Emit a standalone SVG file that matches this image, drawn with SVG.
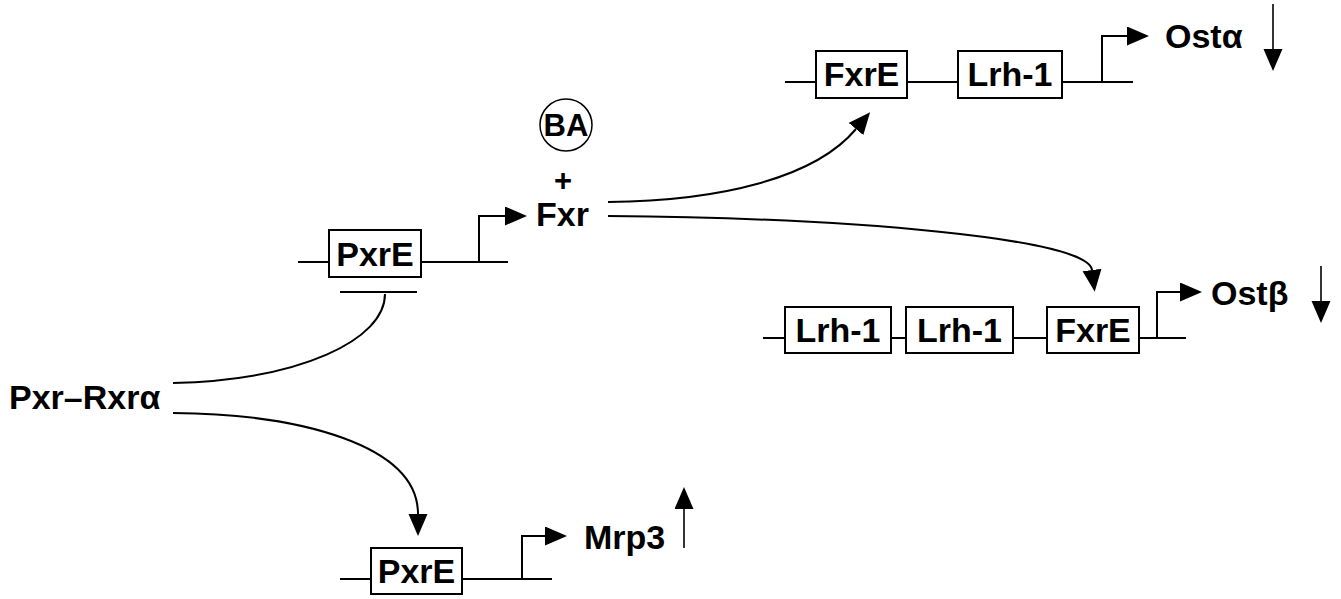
<svg xmlns="http://www.w3.org/2000/svg" width="1341" height="599" viewBox="0 0 1341 599">
  <defs>
    <style>
      .ln { fill: none; stroke: #000; stroke-width: 2; }
      .thin { fill: none; stroke: #000; stroke-width: 1.6; }
      .box { fill: #fff; stroke: #000; stroke-width: 2; }
      .lbl { font-family: "Liberation Sans", Arial, sans-serif; font-weight: bold; font-size: 34px; fill: #000; }
      .mid { text-anchor: middle; }
    </style>
    <marker id="head" markerUnits="userSpaceOnUse" markerWidth="23" markerHeight="20" refX="0" refY="9.5" orient="auto">
      <path d="M0,0 L22,9.5 L0,19 z" fill="#000"/>
    </marker>
  </defs>

  <rect width="1341" height="599" fill="#fff"/>

  <!-- PxrE promoter driving Fxr -->
  <g id="pxre-fxr-gene">
    <path class="ln" d="M298,262 H508"/>
    <rect class="box" x="329" y="230" width="92" height="47"/>
    <text class="lbl mid" x="375" y="266">PxrE</text>
    <path class="ln" d="M479,262 V216 H505" marker-end="url(#head)"/>
    <path class="ln" d="M340,292 H417"/>
  </g>

  <g id="fxr">
    <text class="lbl" x="536" y="226">Fxr</text>
  </g>

  <g id="ba">
    <circle cx="566" cy="125" r="26" fill="#fff" stroke="#000" stroke-width="1.5"/>
    <text class="lbl mid" x="566" y="136" style="font-size:31px">BA</text>
    <text class="lbl mid" x="563" y="191" style="font-size:31px">+</text>
  </g>

  <g id="pxr-rxra">
    <text class="lbl" x="9" y="409">Pxr–Rxrα</text>
  </g>

  <!-- Ostα gene -->
  <g id="ost-alpha-gene">
    <path class="ln" d="M785,82 H1133"/>
    <rect class="box" x="816" y="51" width="91" height="47"/>
    <text class="lbl mid" x="861.5" y="86">FxrE</text>
    <rect class="box" x="958" y="51" width="104" height="47"/>
    <text class="lbl mid" x="1010" y="86">Lrh-1</text>
    <path class="ln" d="M1102,82 V36 H1127" marker-end="url(#head)"/>
    <text class="lbl" x="1165" y="48">Ostα</text>
    <path class="thin" d="M1273,4 V49" marker-end="url(#head)"/>
  </g>

  <!-- Ostβ gene -->
  <g id="ost-beta-gene">
    <path class="ln" d="M763,338 H1186"/>
    <rect class="box" x="785" y="307" width="106" height="46"/>
    <text class="lbl mid" x="838" y="342">Lrh-1</text>
    <rect class="box" x="906" y="307" width="107" height="46"/>
    <text class="lbl mid" x="959.5" y="342">Lrh-1</text>
    <rect class="box" x="1047" y="307" width="92" height="46"/>
    <text class="lbl mid" x="1093" y="342">FxrE</text>
    <path class="ln" d="M1157,338 V292 H1180" marker-end="url(#head)"/>
    <text class="lbl" x="1211" y="305">Ostβ</text>
    <path class="thin" d="M1321,266 V301" marker-end="url(#head)"/>
  </g>

  <!-- Mrp3 gene -->
  <g id="mrp3-gene">
    <path class="ln" d="M340,579 H552"/>
    <rect class="box" x="371" y="548" width="91" height="46"/>
    <text class="lbl mid" x="416.5" y="583">PxrE</text>
    <path class="ln" d="M522,579 V536 H545" marker-end="url(#head)"/>
    <text class="lbl" x="584" y="549">Mrp3</text>
    <path class="thin" d="M684,548 V509" marker-end="url(#head)"/>
  </g>

  <!-- regulatory connectors -->
  <g id="connectors">
    <path class="ln" d="M173,383 C300,380 385,340 385,294"/>
    <path class="ln" d="M173,413 C300,414 418,445 418,514" marker-end="url(#head)"/>
    <path class="ln" d="M608,202 C720,201 815,178 856,129" marker-end="url(#head)"/>
    <path class="ln" d="M608,216 C850,218 1088,238 1092,270" marker-end="url(#head)"/>
  </g>
</svg>
